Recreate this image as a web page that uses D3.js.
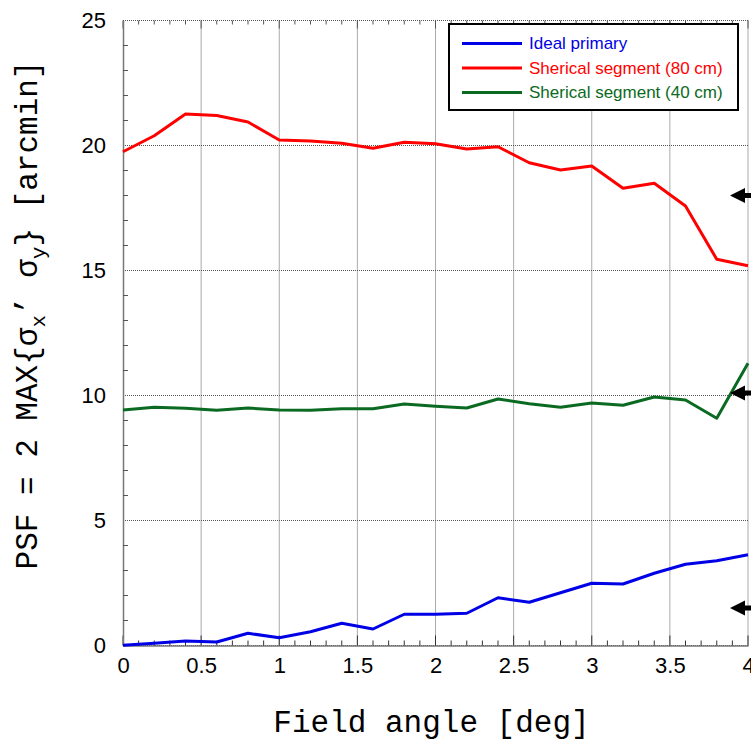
<!DOCTYPE html>
<html>
<head>
<meta charset="utf-8">
<script src="https://cdn.jsdelivr.net/npm/d3@7"></script>
<style>
  body { margin: 0; background: #fff; }
  svg { display: block; }
</style>
</head>
<body>
<div id="chart"></div>
<script>
const angles = [0, 0.2, 0.4, 0.6, 0.8, 1.0, 1.2, 1.4, 1.6, 1.8, 2.0,
  2.2, 2.4, 2.6, 2.8, 3.0, 3.2, 3.4, 3.6, 3.8, 4.0];
const idealPrimary = [0.01, 0.09, 0.18, 0.14, 0.49, 0.31, 0.55, 0.89, 0.66, 1.25, 1.25,
  1.29, 1.91, 1.73, 2.11, 2.49, 2.46, 2.89, 3.25, 3.39, 3.63];
const segment80 = [19.75, 20.39, 21.26, 21.2, 20.94, 20.22, 20.18, 20.09, 19.89, 20.13, 20.07,
  19.86, 19.95, 19.31, 19.02, 19.18, 18.29, 18.49, 17.58, 15.45, 15.19];
const segment40 = [9.42, 9.53, 9.49, 9.41, 9.5, 9.42, 9.41, 9.47, 9.47, 9.66, 9.57,
  9.5, 9.86, 9.67, 9.53, 9.7, 9.61, 9.94, 9.82, 9.09, 11.29];
const seriesNames = ["Ideal primary", "Sherical segment (80 cm)", "Sherical segment (40 cm)"];
const seriesColors = ["#0000e6", "#ff0000", "#0b6a22"];
const arrowLevels = [18, 10.1, 1.5];
const xTicks = [0, 0.5, 1, 1.5, 2, 2.5, 3, 3.5, 4];
const yTicks = [0, 5, 10, 15, 20, 25];

const W = 751, H = 740;
const margin = { left: 123, top: 20.5, right: 3, bottom: 94.5 };
const width = W - margin.left - margin.right;
const height = H - margin.top - margin.bottom;

const svg = d3.select("#chart").append("svg").attr("width", W).attr("height", H);
const g = svg.append("g").attr("transform", `translate(${margin.left},${margin.top})`);

const x = d3.scaleLinear().domain([0, 4]).range([0, width]);
const y = d3.scaleLinear().domain([0, 25]).range([height, 0]);

// grid
g.append("g").selectAll("line").data(xTicks.slice(1)).join("line")
  .attr("x1", d => x(d)).attr("x2", d => x(d)).attr("y1", 0).attr("y2", height)
  .attr("stroke", "#555").attr("stroke-width", 1).attr("stroke-dasharray", "1,1");
g.append("g").selectAll("line").data(yTicks).join("line")
  .attr("x1", 0).attr("x2", width).attr("y1", d => y(d)).attr("y2", d => y(d))
  .attr("stroke", "#555").attr("stroke-width", 1).attr("stroke-dasharray", "1,1");

// top minor ticks
const minorX = d3.range(0, 41).map(i => i / 10);
g.append("g").selectAll("line").data(minorX).join("line")
  .attr("x1", d => x(d)).attr("x2", d => x(d)).attr("y1", 0)
  .attr("y2", d => (Math.round(d * 10) % 5 === 0 ? 8 : 4))
  .attr("stroke", "#555").attr("stroke-width", 1);

// bottom axis
const xAxis = d3.axisBottom(x).tickValues(xTicks).tickSize(0).tickPadding(12)
  .tickFormat(d3.format("~g"));
const gx = g.append("g").attr("transform", `translate(0,${height})`).call(xAxis);
gx.select(".domain").attr("stroke", "#777").attr("stroke-width", 1.5);
gx.selectAll("text").attr("font-family", "Liberation Sans, Arial, sans-serif")
  .attr("font-size", 22).attr("fill", "#000");
g.append("g").selectAll("line").data(minorX).join("line")
  .attr("x1", d => x(d)).attr("x2", d => x(d)).attr("y1", height)
  .attr("y2", d => height - (Math.round(d * 10) % 5 === 0 ? 10 : 5))
  .attr("stroke", "#333").attr("stroke-width", 1);

// left axis
const yAxis = d3.axisLeft(y).tickValues(yTicks).tickSize(0).tickPadding(17);
const gy = g.append("g").call(yAxis);
gy.select(".domain").attr("stroke", "#777").attr("stroke-width", 1.5);
gy.selectAll("text").attr("font-family", "Liberation Sans, Arial, sans-serif")
  .attr("font-size", 22).attr("fill", "#000");
g.append("g").selectAll("line").data(d3.range(0, 26)).join("line")
  .attr("x1", 0).attr("x2", d => (d % 5 === 0 ? 0 : 5))
  .attr("y1", d => y(d)).attr("y2", d => y(d))
  .attr("stroke", "#555").attr("stroke-width", 1);

// data lines
const line = d3.line().x(d => x(d[0])).y(d => y(d[1]));
[idealPrimary, segment80, segment40].forEach((vals, i) => {
  g.append("path")
    .datum(angles.map((a, j) => [a, vals[j]]))
    .attr("d", line)
    .attr("fill", "none")
    .attr("stroke", seriesColors[i])
    .attr("stroke-width", 3)
    .attr("stroke-linejoin", "round");
});

// arrows
const tipX = x(4) - 18;
g.append("g").selectAll("path").data(arrowLevels).join("path")
  .attr("d", d => {
    const cy = y(d);
    return `M${tipX},${cy} L${tipX + 15},${cy - 7.5} L${tipX + 15},${cy - 2.5} L${tipX + 40},${cy - 2.5}` +
      ` L${tipX + 40},${cy + 2.5} L${tipX + 15},${cy + 2.5} L${tipX + 15},${cy + 7.5} Z`;
  })
  .attr("fill", "#000");

// legend
const lg = svg.append("g").attr("transform", "translate(449,24)");
lg.append("rect").attr("width", 289).attr("height", 86)
  .attr("fill", "#fff").attr("stroke", "#000").attr("stroke-width", 2);
seriesNames.forEach((name, i) => {
  const ly = 19.5 + i * 24.5;
  lg.append("line").attr("x1", 13).attr("x2", 73).attr("y1", ly).attr("y2", ly)
    .attr("stroke", seriesColors[i]).attr("stroke-width", 3);
  lg.append("text").attr("x", 80).attr("y", ly).attr("dy", "0.35em")
    .attr("font-family", "Liberation Sans, Arial, sans-serif").attr("font-size", 17)
    .attr("fill", seriesColors[i]).text(name);
});

// axis titles
svg.append("text").attr("x", margin.left + width / 2 - 4).attr("y", 732)
  .attr("text-anchor", "middle").attr("font-family", "Liberation Mono, Courier New, monospace")
  .attr("font-size", 31).attr("fill", "#000").text("Field angle [deg]");

const yt = svg.append("text").attr("transform", "translate(37,315) rotate(-90)")
  .attr("text-anchor", "middle").attr("font-family", "Liberation Mono, Courier New, monospace")
  .attr("font-size", 31).attr("fill", "#000");
yt.append("tspan").text("PSF = 2 MAX{\u03c3");
yt.append("tspan").attr("font-size", 21).attr("dy", 8).text("x");
yt.append("tspan").attr("dy", -8).text("\u2019 \u03c3");
yt.append("tspan").attr("font-size", 21).attr("dy", 8).text("y");
yt.append("tspan").attr("dy", -8).text("} [arcmin]");
</script>
</body>
</html>
